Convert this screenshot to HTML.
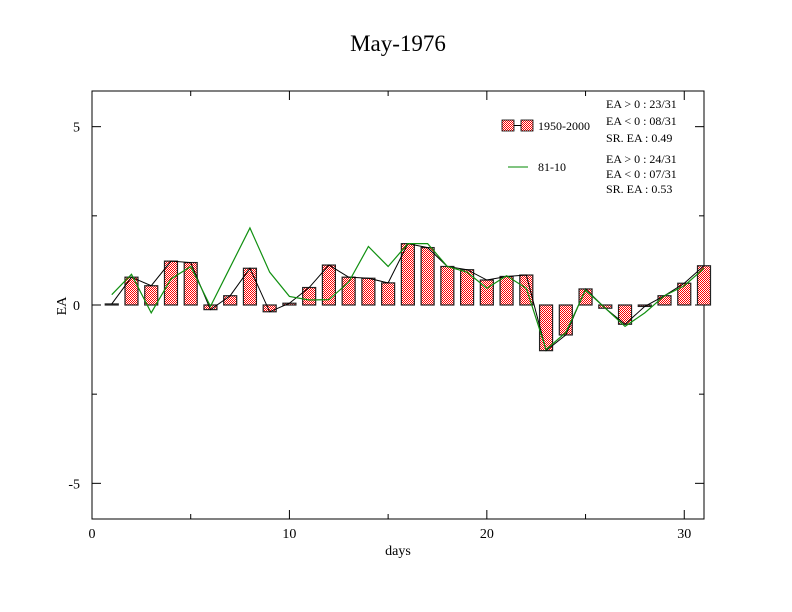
<!DOCTYPE html>
<html><head><meta charset="utf-8"><style>body{margin:0;background:#fff}svg{display:block;font-family:"Liberation Serif",serif}</style></head>
<body>
<svg id="c" width="792" height="612">
<defs><pattern id="chk" width="2" height="2" patternUnits="userSpaceOnUse"><rect width="2" height="2" fill="#fff"/><rect width="1" height="1" fill="#f00"/><rect x="1" y="1" width="1" height="1" fill="#f00"/></pattern></defs>
<rect width="792" height="612" fill="#fff"/>
<text x="398" y="51" font-size="23" text-anchor="middle">May-1976</text>
<g id="plot"></g>
<text x="398" y="555" font-size="14" text-anchor="middle">days</text>
<text x="66" y="306" font-size="14" text-anchor="middle" transform="rotate(-90 66 306)">EA</text>
<g font-size="12">
<rect x="502" y="120" width="12" height="11" fill="url(#chk)" stroke="#000" stroke-width="0.8"/>
<line x1="514" y1="125.5" x2="521" y2="125.5" stroke="#000"/>
<rect x="521" y="120" width="12" height="11" fill="url(#chk)" stroke="#000" stroke-width="0.8"/>
<text x="538" y="130">1950-2000</text>
<line x1="508" y1="167" x2="528" y2="167" stroke="#080" stroke-width="1"/>
<text x="538" y="171">81-10</text>
<text x="606" y="108">EA &gt; 0 : 23/31</text>
<text x="606" y="125">EA &lt; 0 : 08/31</text>
<text x="606" y="142">SR. EA :  0.49</text>
<text x="606" y="163">EA &gt; 0 : 24/31</text>
<text x="606" y="178">EA &lt; 0 : 07/31</text>
<text x="606" y="193">SR. EA :  0.53</text>
</g>
</svg>
<script>
const days=[1,2,3,4,5,6,7,8,9,10,11,12,13,14,15,16,17,18,19,20,21,22,23,24,25,26,27,28,29,30,31];
const ea5000=[0.03,0.78,0.54,1.23,1.19,-0.13,0.26,1.03,-0.19,0.05,0.49,1.12,0.78,0.75,0.62,1.72,1.61,1.08,0.99,0.70,0.80,0.84,-1.28,-0.84,0.45,-0.09,-0.54,-0.04,0.26,0.61,1.10];
const ea8110=[0.29,0.86,-0.22,0.73,1.08,-0.04,1.06,2.16,0.92,0.24,0.14,0.15,0.64,1.64,1.08,1.72,1.72,1.08,0.92,0.47,0.82,0.47,-1.25,-0.77,0.42,-0.09,-0.60,-0.22,0.26,0.54,1.03];
const xTicks=[0,10,20,30];
const yTicks=[-5,0,5];
const L=92,R=704,T=91,B=519;
const xs=v=>L+(v/31)*(R-L);
const ys=v=>T+(6-v)/12*(B-T);
const g=document.getElementById('plot');
const NS='http://www.w3.org/2000/svg';
function mk(t,a){const e=document.createElementNS(NS,t);for(const k in a)e.setAttribute(k,a[k]);g.appendChild(e);return e;}
let e=mk('rect',{x:L,y:T,width:R-L,height:B-T,fill:'none',stroke:'#000','stroke-width':1});


for(let v=0;v<=30;v+=5){const big=v%10==0,l=big?9:5;
mk('line',{x1:xs(v),y1:B,x2:xs(v),y2:B-l,stroke:'#000'});mk('line',{x1:xs(v),y1:T,x2:xs(v),y2:T+l,stroke:'#000'});}
for(let v=-5;v<=5;v+=2.5){const big=v%5==0,l=big?9:5;
mk('line',{x1:L,y1:ys(v),x2:L+l,y2:ys(v),stroke:'#000'});mk('line',{x1:R,y1:ys(v),x2:R-l,y2:ys(v),stroke:'#000'});}
xTicks.forEach(v=>{const t=mk('text',{x:xs(v),y:538,'font-size':14,'text-anchor':'middle'});t.textContent=v;

});
yTicks.forEach(v=>{const t=mk('text',{x:80,y:ys(v)+5,'font-size':14,'text-anchor':'end'});t.textContent=v;

});
const bw=13;
days.forEach((d,i)=>{const v=ea5000[i],y0=ys(0),y1=ys(v);
const r=mk('rect',{x:xs(d)-bw/2,y:Math.min(y0,y1),width:bw,height:Math.max(Math.abs(y1-y0),1),fill:'url(#chk)',stroke:'#222','stroke-width':1.2});

});
let p=mk('polyline',{points:days.map((d,i)=>xs(d)+','+ys(ea5000[i])).join(' '),fill:'none',stroke:'#000','stroke-width':1});


let q=mk('polyline',{points:days.map((d,i)=>xs(d)+','+ys(ea8110[i])).join(' '),fill:'none',stroke:'#109010','stroke-width':1.2});


</script>
</body></html>
